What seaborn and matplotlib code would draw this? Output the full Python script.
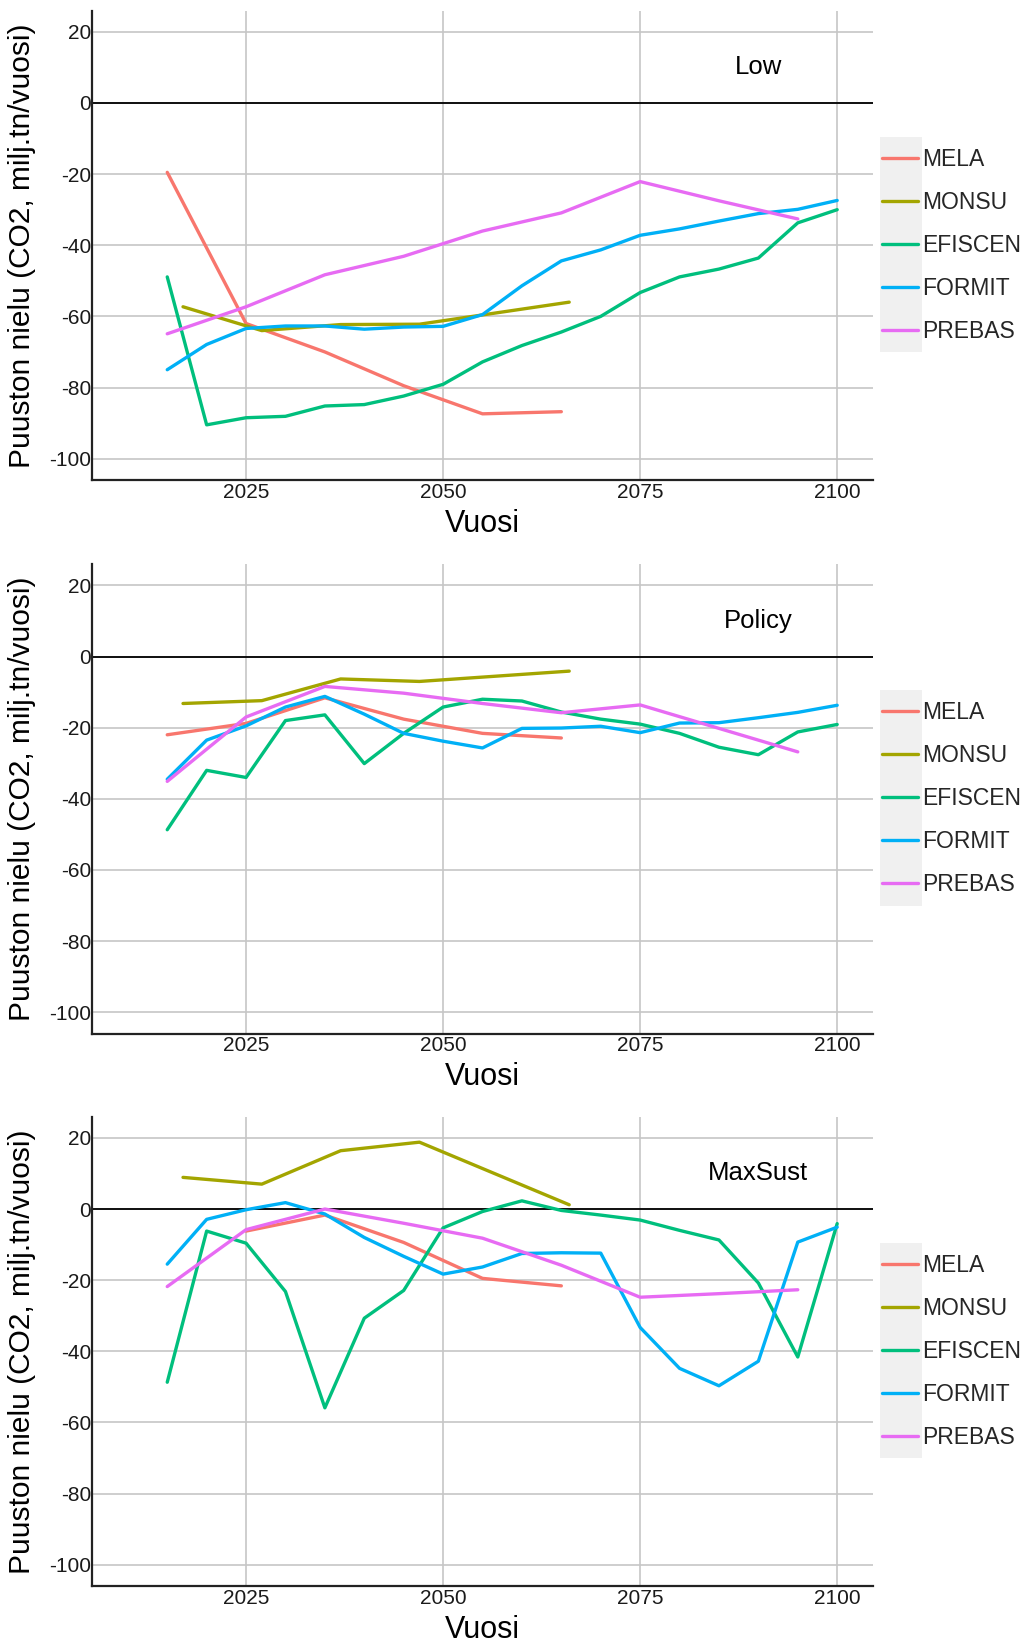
import matplotlib
matplotlib.use("Agg")
import matplotlib.pyplot as plt
from matplotlib.lines import Line2D
from matplotlib.patches import Rectangle
import numpy as np
import pandas as pd
import seaborn as sns

# --- model names and colours -------------------------------------------------
models = ["MELA", "MONSU", "EFISCEN", "FORMIT", "PREBAS"]
model_colors = ["#F8766D", "#A3A500", "#00BF7D", "#00B0F6", "#E76BF3"]
scenarios = ["Low", "Policy", "MaxSust"]

# --- simulation years per model ------------------------------------------------
years_mela = [2015, 2025, 2035, 2045, 2055, 2065]
years_mela_maxsust = [2025, 2035, 2045, 2055, 2065]
years_monsu = [2017, 2027, 2037, 2047, 2066]
years_efiscen = list(range(2015, 2101, 5))
years_formit = list(range(2015, 2101, 5))
years_prebas = [2015, 2025, 2035, 2045, 2055, 2065, 2075, 2085, 2095]

# --- forest carbon sink (CO2, million t / year) --------------------------------
low_mela = [-19.5, -62.0, -70.0, -79.5, -87.4, -86.8]
low_monsu = [-57.3, -64.0, -62.3, -62.2, -56.0]
low_efiscen = [-48.9, -90.5, -88.5, -88.1, -85.2, -84.8, -82.4, -79.1, -72.8,
               -68.2, -64.4, -60.0, -53.3, -48.9, -46.7, -43.6, -33.7, -30.0]
low_formit = [-75.0, -67.9, -63.4, -62.7, -62.7, -63.6, -63.0, -62.8, -59.5,
              -51.4, -44.4, -41.3, -37.2, -35.4, -33.2, -31.1, -29.9, -27.4]
low_prebas = [-64.9, -57.3, -48.3, -43.1, -36.0, -30.9, -22.1, -27.5, -32.6]

policy_mela = [-22.0, -18.8, -11.6, -17.6, -21.6, -22.9]
policy_monsu = [-13.2, -12.4, -6.3, -7.0, -4.1]
policy_efiscen = [-48.7, -32.0, -34.0, -18.0, -16.4, -30.1, -21.6, -14.2, -12.0,
                  -12.5, -15.6, -17.6, -19.0, -21.6, -25.5, -27.6, -21.2, -19.1]
policy_formit = [-34.5, -23.5, -19.5, -14.2, -11.2, -16.2, -21.6, -23.8, -25.7,
                 -20.2, -20.1, -19.6, -21.4, -18.7, -18.6, -17.2, -15.7, -13.7]
policy_prebas = [-35.1, -17.0, -8.4, -10.3, -13.2, -15.8, -13.6, -20.2, -26.8]

maxsust_mela = [-6.2, -1.7, -9.4, -19.5, -21.6]
maxsust_monsu = [8.9, 7.0, 16.4, 18.8, 1.2]
maxsust_efiscen = [-48.7, -6.2, -9.6, -23.2, -55.9, -30.7, -22.9, -5.3, -0.7,
                   2.3, -0.4, -1.7, -3.1, -6.0, -8.7, -20.8, -41.6, -4.1]
maxsust_formit = [-15.5, -2.9, -0.2, 1.8, -1.4, -8.0, -13.3, -18.3, -16.3,
                  -12.5, -12.3, -12.4, -33.3, -44.8, -49.7, -42.8, -9.3, -5.1]
maxsust_prebas = [-21.8, -5.8, 0.0, -4.0, -8.2, -15.8, -24.8, -23.8, -22.7]

y_ticks = [20, 0, -20, -40, -60, -80, -100]
x_ticks = [2025, 2050, 2075, 2100]

# --- long table for seaborn ----------------------------------------------------
series = {
    "Low": [(years_mela, low_mela), (years_monsu, low_monsu),
            (years_efiscen, low_efiscen), (years_formit, low_formit),
            (years_prebas, low_prebas)],
    "Policy": [(years_mela, policy_mela), (years_monsu, policy_monsu),
               (years_efiscen, policy_efiscen), (years_formit, policy_formit),
               (years_prebas, policy_prebas)],
    "MaxSust": [(years_mela_maxsust, maxsust_mela), (years_monsu, maxsust_monsu),
                (years_efiscen, maxsust_efiscen), (years_formit, maxsust_formit),
                (years_prebas, maxsust_prebas)],
}
rows = []
for scen, pairs in series.items():
    for model, (yrs, vals) in zip(models, pairs):
        for yr, v in zip(yrs, vals):
            rows.append({"Skenaario": scen, "Malli": model, "Vuosi": yr, "nielu": v})
df = pd.DataFrame(rows)

# --- styling -------------------------------------------------------------------
sns.set_theme(style="white")
plt.rcParams["font.family"] = ["Liberation Sans", "DejaVu Sans"]
plt.rcParams["axes.unicode_minus"] = False
palette = dict(zip(models, model_colors))

fig = plt.figure(figsize=(10.24, 16.46), dpi=100)
left, width, height = 0.0902, 0.762, 0.2852
bottoms = [0.7084, 0.3721, 0.03645]

for scen, bottom in zip(scenarios, bottoms):
    ax = fig.add_axes([left, bottom, width, height])
    sub = df[df["Skenaario"] == scen]
    sns.lineplot(data=sub, x="Vuosi", y="nielu", hue="Malli", hue_order=models,
                 palette=palette, linewidth=2.4, ax=ax, legend=False,
                 estimator=None, sort=True, zorder=3)

    ax.set_xlim(2005.5, 2104.5)
    ax.set_ylim(-106, 26)
    ax.set_xticks(x_ticks)
    ax.set_yticks(y_ticks)
    ax.grid(True, color="#c6c6c6", linewidth=1.2, zorder=0)
    ax.set_axisbelow(True)
    ax.axhline(0, color="black", linewidth=1.3, zorder=2)

    for side in ["top", "right"]:
        ax.spines[side].set_visible(False)
    for side in ["left", "bottom"]:
        ax.spines[side].set_color("#222222")
        ax.spines[side].set_linewidth(1.6)

    ax.tick_params(axis="both", length=0, labelsize=15, labelcolor="#1a1a1a")
    ax.tick_params(axis="y", pad=1)
    ax.tick_params(axis="x", pad=2)
    ax.set_xlabel("Vuosi", fontsize=22, labelpad=5, color="black")
    ax.set_ylabel("Puuston nielu (CO2, milj.tn/vuosi)", fontsize=21.5,
                  labelpad=9, color="black")

    ax.text(2090, 10, scen, ha="center", va="center", fontsize=18.5, color="black")

    # legend: grey key column with model names to the right
    ax.add_patch(Rectangle((1.0092, 0.2726), 0.0539, 0.459, transform=ax.transAxes,
                           facecolor="#f0f0f0", edgecolor="none", clip_on=False,
                           zorder=1))
    handles = [Line2D([0], [0], color=c, linewidth=2.4) for c in model_colors]
    ax.legend(handles, models, loc="center left", bbox_to_anchor=(1.0125, 0.5),
              frameon=False, fontsize=16.5, handlelength=1.55, handletextpad=0.2,
              labelspacing=0.87, borderpad=0, borderaxespad=0)

fig.savefig("out.png", dpi=100)
